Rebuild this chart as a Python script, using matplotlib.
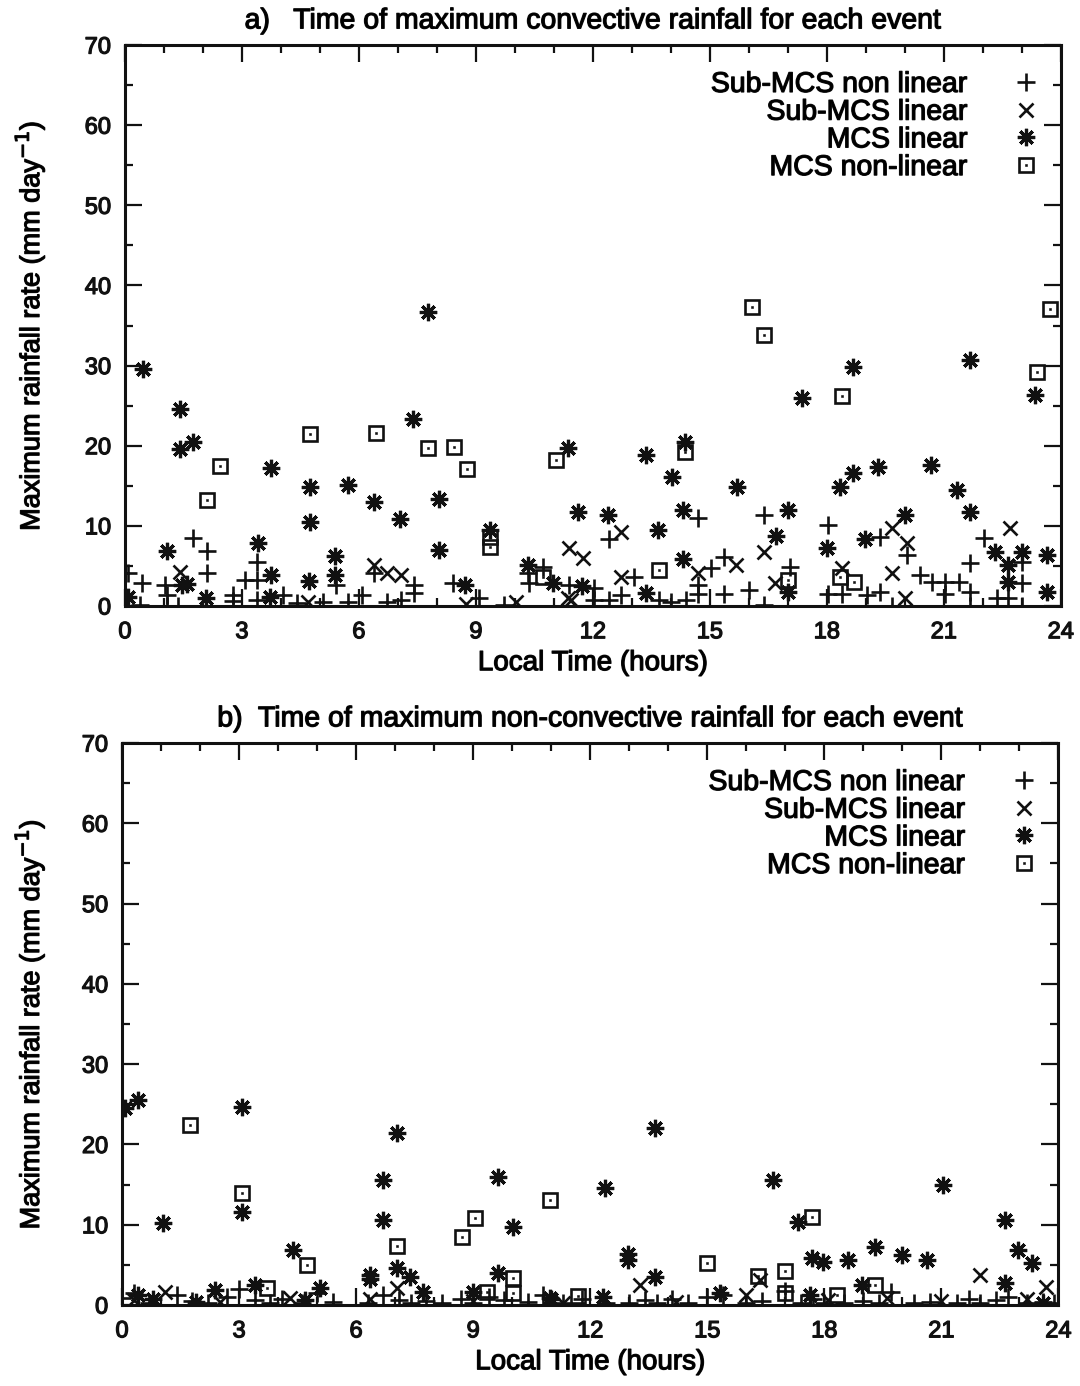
import matplotlib
matplotlib.use("Agg")
import matplotlib.pyplot as plt
import matplotlib.patheffects as pe
from matplotlib.ticker import MultipleLocator
from matplotlib.legend_handler import HandlerTuple

plt.rcParams['font.family'] = ['Liberation Sans', 'DejaVu Sans']

# ---------------- Panel a: convective rainfall ----------------
a_sub_nonlin_t = [0.08, 0.43, 0.38, 1.03, 1.07, 1.07, 1.37, 1.75, 2.1, 2.1, 2.78, 2.78, 3.09, 3.39, 3.39,
                  3.39, 4.06, 4.41, 5.09, 5.4, 5.73, 6.09, 6.38, 6.73, 7.07, 7.41, 7.41, 8.41, 9.08, 9.73,
                  10.33, 10.72, 10.36, 11.39, 12.03, 12.03, 12.42, 12.42, 12.72, 13.06, 13.7, 14.0, 14.4,
                  14.7, 14.7, 14.7, 15.04, 15.37, 15.37, 16.0, 16.38, 16.38, 17.05, 18.04, 18.04, 18.38,
                  19.02, 19.36, 19.36, 20.05, 19.67, 20.39, 20.7, 21.03, 21.03, 21.39, 21.67, 21.67, 21.67,
                  22.03, 22.36, 22.64, 23.0, 23.0, 23.0]
a_sub_nonlin_v = [4.1, 2.9, 0.1, 2.6, 1.4, 0.0, 0.0, 8.5, 6.8, 4.1, 1.4, 0.6, 3.2, 5.5, 3.2,
                  0.8, 1.4, 0.4, 0.5, 2.6, 0.5, 1.4, 4.1, 0.5, 0.7, 2.6, 1.6, 2.9, 1.0, 0.1,
                  4.1, 4.9, 2.9, 2.6, 2.2, 0.7, 8.4, 0.8, 1.4, 3.6, 0.7, 0.5, 0.7,
                  11.0, 2.6, 1.5, 4.7, 6.1, 1.5, 2.0, 11.4, 0.1, 4.9, 10.1, 1.5, 1.5,
                  1.4, 1.7, 8.6, 6.4, 0.0, 3.9, 3.0, 3.0, 1.5, 3.0, 5.4, 1.7, 0.0,
                  8.5, 1.0, 1.0, 5.5, 2.9, 0.0]

a_sub_lin_t = [1.41, 4.7, 6.38, 6.73, 7.07, 8.74, 10.03, 11.39, 11.75, 11.44, 12.72, 12.72, 14.7, 15.68,
               16.38, 16.66, 18.38, 19.67, 20.05, 19.67, 20.0, 22.7, 11.36]
a_sub_lin_v = [4.2, 0.5, 5.1, 4.1, 3.9, 0.3, 0.5, 7.2, 6.0, 0.7, 9.2, 3.6, 4.1, 5.1,
               6.7, 2.9, 4.7, 9.7, 7.9, 4.1, 1.0, 9.7, 1.0]

a_mcs_lin_t = [0.08, 0.46, 1.41, 1.41, 1.74, 1.08, 1.46, 1.6, 2.08, 3.41, 3.74, 3.74, 3.72, 4.74, 4.74,
               4.72, 5.72, 5.38, 5.38, 6.38, 7.05, 7.38, 7.77, 8.05, 8.05, 8.72, 9.36, 10.33, 10.97,
               11.36, 11.62, 12.38, 13.36, 13.67, 14.03, 14.36, 14.31, 14.31, 13.36, 11.72, 15.69,
               16.69, 17.0, 17.0, 17.36, 18.0, 18.33, 18.67, 18.67, 18.97, 19.31, 20.0, 20.67, 21.33,
               21.67, 21.67, 22.31, 22.64, 23.0, 22.64, 23.33, 23.64, 23.64]
a_mcs_lin_v = [1.1, 29.6, 24.6, 19.6, 20.5, 6.9, 2.6, 2.7, 1.0, 7.9, 17.2, 3.9, 1.1, 14.9, 10.5,
               3.1, 15.1, 6.2, 3.9, 13.0, 10.8, 23.3, 36.7, 13.4, 7.0, 2.6, 9.5, 5.1, 2.9,
               19.7, 11.7, 11.4, 18.8, 9.5, 16.1, 20.5, 12.0, 5.9, 1.6, 2.5, 14.9,
               8.7, 12.0, 1.7, 26.0, 7.2, 14.9, 16.6, 29.8, 8.4, 17.3, 11.4, 17.6, 14.5,
               11.7, 30.7, 6.7, 5.1, 6.7, 3.0, 26.3, 6.4, 1.7]

a_mcs_nonlin_t = [2.1, 2.44, 4.74, 6.43, 7.76, 8.43, 8.77, 9.36, 9.36, 10.72, 11.05, 14.36, 13.7, 16.07,
                  16.4, 18.38, 17.0, 18.69, 18.33, 23.39, 23.73]
a_mcs_nonlin_v = [13.2, 17.5, 21.5, 21.6, 19.7, 19.8, 17.1, 8.6, 7.4, 3.6, 18.2, 19.2, 4.5, 37.3,
                  33.8, 26.2, 3.3, 3.0, 3.6, 29.2, 37.1]

# ---------------- Panel b: non-convective rainfall ----------------
b_sub_nonlin_t = [0.0, 0.3, 0.7, 1.4, 1.8, 2.2, 2.7, 3.0, 3.4, 3.8, 4.1, 4.6, 5.0, 5.4, 6.3, 6.7, 7.1,
                  7.4, 7.8, 8.2, 8.7, 9.0, 9.4, 9.8, 10.4, 10.8, 11.3, 11.8, 12.4, 13.0, 13.4, 13.7,
                  14.1, 14.5, 15.0, 15.4, 16.0, 16.4, 17.0, 17.4, 17.7, 18.0, 18.5, 19.0, 19.4, 19.7,
                  20.3, 20.7, 21.4, 21.7, 22.0, 22.4, 22.7, 23.2, 23.6, 23.9]
b_sub_nonlin_v = [0.9, 1.5, 0.3, 1.2, 0.5, 0.2, 1.0, 2.0, 0.6, 0.3, 0.8, 0.2, 1.5, 0.4, 0.3, 1.2, 0.6,
                  0.2, 0.5, 0.2, 0.7, 0.3, 1.0, 0.6, 0.4, 1.2, 0.2, 0.8, 0.3, 0.2, 0.6, 0.2,
                  0.7, 0.3, 1.0, 1.3, 0.2, 0.5, 1.8, 0.3, 0.8, 0.3, 0.2, 0.5, 0.2, 1.6,
                  0.3, 0.4, 0.2, 0.7, 0.3, 0.6, 1.0, 0.3, 0.4, 0.2]

b_sub_lin_t = [0.3, 1.1, 2.5, 4.3, 6.36, 7.05, 9.0, 11.3, 13.28, 14.2, 16.0, 16.36, 18.1, 19.6,
               21.0, 22.0, 23.2, 23.67]
b_sub_lin_v = [0.6, 1.6, 0.4, 0.9, 0.8, 2.1, 0.5, 0.3, 2.5, 0.4, 1.2, 3.1, 0.6, 0.9,
               0.5, 3.7, 0.8, 2.2]

b_mcs_lin_t = [0.08, 0.41, 1.06, 3.07, 3.07, 4.39, 7.05, 6.7, 6.7, 6.36, 6.36, 7.05, 7.38, 9.64, 10.03,
               9.64, 0.41, 0.8, 2.38, 3.41, 5.08, 7.72, 9.0, 10.97, 13.67, 12.38, 12.97, 12.97, 13.67,
               16.69, 17.33, 17.69, 17.97, 18.62, 19.3, 20.0, 20.64, 21.03, 22.64, 22.97, 23.33,
               22.64, 18.97, 15.33, 12.33, 17.64, 1.9, 4.7, 11.0, 23.6]
b_mcs_lin_v = [24.5, 25.5, 10.2, 24.7, 11.6, 6.8, 21.4, 15.6, 10.6, 3.7, 3.2, 4.6, 3.5, 15.9, 9.7,
               4.0, 1.2, 0.8, 1.9, 2.5, 2.1, 1.6, 1.6, 0.9, 22.0, 14.6, 6.4, 5.6, 3.5,
               15.6, 10.4, 5.9, 5.4, 5.6, 7.2, 6.2, 5.6, 14.9, 10.6, 6.8, 5.2,
               2.8, 2.5, 1.5, 1.0, 1.2, 0.4, 0.6, 0.8, 0.3]

b_mcs_nonlin_t = [1.74, 3.07, 4.74, 7.05, 8.72, 9.05, 10.97, 10.03, 10.03, 9.36, 3.72, 17.69, 14.99,
                  17.0, 16.3, 19.31, 17.0, 18.33, 11.69]
b_mcs_nonlin_v = [22.4, 13.9, 5.0, 7.4, 8.5, 10.8, 13.1, 3.4, 1.5, 1.6, 2.1, 11.0, 5.2,
                  4.2, 3.6, 2.5, 1.5, 1.2, 1.1]

series_labels = ["Sub-MCS non linear", "Sub-MCS linear", "MCS linear", "MCS non-linear"]
x_ticks = [0, 3, 6, 9, 12, 15, 18, 21, 24]
titles = ["a)   Time of maximum convective rainfall for each event",
          "b)  Time of maximum non-convective rainfall for each event"]

ink = "#111111"
heavy = [pe.withStroke(linewidth=0.9, foreground=ink)]

fig = plt.figure(figsize=(10.8, 13.86), dpi=100)
ax_a = fig.add_axes([0.1157, 0.5628, 0.8665, 0.4047])
ax_b = fig.add_axes([0.1130, 0.0584, 0.8670, 0.4055])

mk = dict(linestyle="none", color=ink, markeredgewidth=1.9)


def draw_panel(ax, sn_t, sn_v, sl_t, sl_v, ml_t, ml_v, mn_t, mn_v, title, ylab_x):
    h1, = ax.plot(sn_t, sn_v, marker="+", markersize=13, **mk)
    h2, = ax.plot(sl_t, sl_v, marker="x", markersize=10, **mk)
    h3, = ax.plot(ml_t, ml_v, marker=(8, 2, 0), markersize=12.5,
                  linestyle="none", color=ink, markeredgewidth=2.3)
    h4, = ax.plot(mn_t, mn_v, marker="s", markersize=10.5, markerfacecolor="none", **mk)
    h4d, = ax.plot(mn_t, mn_v, marker="s", markersize=1.6, markerfacecolor=ink,
                   linestyle="none", color=ink, markeredgewidth=0.4)

    ax.set_xlim(0, 24)
    ax.set_ylim(0, 70)
    ax.set_xticks(x_ticks)
    ax.xaxis.set_minor_locator(MultipleLocator(1))
    ax.yaxis.set_major_locator(MultipleLocator(10))
    ax.yaxis.set_minor_locator(MultipleLocator(5))
    ax.tick_params(which="both", direction="in", top=True, right=True, width=1.6,
                   colors=ink, labelsize=17)
    ax.tick_params(axis="x", which="both", pad=11)
    ax.tick_params(axis="y", which="both", pad=10)
    ax.tick_params(which="major", length=12)
    ax.tick_params(which="minor", length=6)
    for lab in ax.get_xticklabels() + ax.get_yticklabels():
        lab.set_path_effects(heavy)
    for s in ax.spines.values():
        s.set_linewidth(2.2)
        s.set_color(ink)

    xl = ax.set_xlabel("Local Time (hours)", fontsize=20, labelpad=5)
    yl = ax.set_ylabel("Maximum rainfall rate (mm day$^{-1}$)", fontsize=19.5)
    ax.yaxis.set_label_coords(ylab_x, 0.5)
    tl = ax.set_title(title, fontsize=20.5, pad=12)
    for t in (xl, yl, tl):
        t.set_path_effects(heavy)

    leg = ax.legend([h1, h2, h3, (h4, h4d)], series_labels,
                    handler_map={tuple: HandlerTuple(ndivide=1)},
                    loc="upper right", bbox_to_anchor=(0.978, 0.952),
                    markerfirst=False, frameon=False, fontsize=20.5,
                    handlelength=1.0, handletextpad=1.55, labelspacing=0.06,
                    borderpad=0, borderaxespad=0)
    for t in leg.get_texts():
        t.set_ha("right")
        t.set_path_effects(heavy)
    leg._legend_box.align = "right"
    return leg


draw_panel(ax_a, a_sub_nonlin_t, a_sub_nonlin_v, a_sub_lin_t, a_sub_lin_v,
           a_mcs_lin_t, a_mcs_lin_v, a_mcs_nonlin_t, a_mcs_nonlin_v, titles[0], -0.083)
draw_panel(ax_b, b_sub_nonlin_t, b_sub_nonlin_v, b_sub_lin_t, b_sub_lin_v,
           b_mcs_lin_t, b_mcs_lin_v, b_mcs_nonlin_t, b_mcs_nonlin_v, titles[1], -0.080)

fig.savefig("out.png", dpi=100)
